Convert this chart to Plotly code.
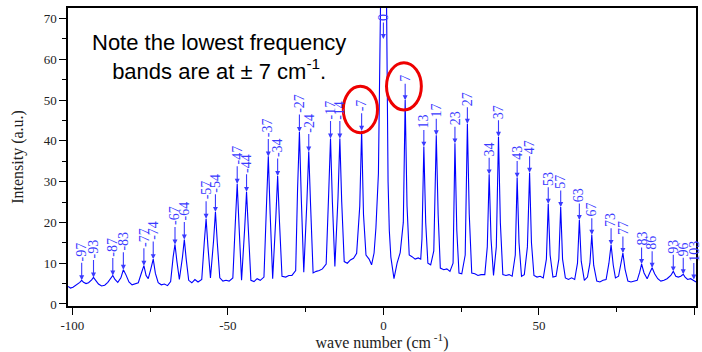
import plotly.graph_objects as go

wn = [-101.4, -100.6, -99.8, -99.0, -98.2, -97.6, -97.0, -96.4, -95.6, -94.8,
      -93.8, -93.2, -92.5, -91.6, -90.6, -89.6, -88.6, -87.6, -87.0, -86.3,
      -85.4, -84.4, -83.6, -82.8, -81.8, -80.8, -79.8, -78.8, -77.8, -77.0,
      -76.3, -75.6, -74.8, -74.0, -73.3, -72.4, -71.4, -70.4, -69.4, -68.4,
      -67.6, -67.0, -66.4, -65.6, -64.6, -64.0, -63.4, -62.6, -61.6, -60.6,
      -59.6, -58.4, -57.6, -57.0, -56.4, -55.6, -54.6, -54.0, -53.4, -52.6,
      -51.6, -50.6, -49.6, -48.4, -47.6, -47.0, -46.4, -45.6, -44.6, -44.0,
      -43.4, -42.6, -41.6, -40.6, -39.6, -38.4, -37.6, -37.0, -36.4, -35.6,
      -34.6, -34.0, -33.4, -32.6, -31.4, -30.4, -29.4, -28.2, -27.6, -27.0,
      -26.4, -25.6, -24.6, -24.0, -23.4, -22.6, -21.6, -20.6, -19.6, -18.4,
      -17.6, -17.0, -16.4, -15.6, -14.6, -14.0, -13.4, -12.6, -11.6, -10.6,
      -9.6, -8.6, -7.6, -7.0, -6.4, -5.6, -4.6, -3.8, -3.0, -2.4,
      -1.6, -0.9, 0.0, 1.0, 1.5, 1.9, 2.4, 3.4, 4.4, 5.4,
      6.4, 7.0, 7.6, 8.3, 9.2, 10.2, 11.2, 12.0, 12.4, 13.0,
      13.6, 14.3, 15.2, 16.2, 17.0, 17.6, 18.3, 19.4, 20.4, 21.4,
      22.4, 23.0, 23.6, 24.3, 25.2, 26.3, 27.0, 27.6, 28.4, 29.4,
      30.4, 31.4, 32.6, 33.4, 34.0, 34.6, 35.4, 36.3, 37.0, 37.6,
      38.4, 39.4, 40.4, 41.4, 42.4, 43.0, 43.6, 44.4, 45.3, 46.3,
      47.0, 47.6, 48.4, 49.4, 50.4, 51.4, 52.4, 53.0, 53.6, 54.5,
      55.5, 56.4, 57.0, 57.6, 58.5, 59.5, 60.5, 61.5, 62.4, 63.0,
      63.6, 64.6, 65.6, 66.4, 67.0, 67.6, 68.6, 69.6, 70.6, 71.6,
      72.5, 73.2, 73.9, 74.6, 75.6, 76.5, 77.0, 77.7, 78.6, 79.6,
      80.6, 81.6, 82.4, 83.0, 83.8, 84.8, 85.7, 86.4, 87.2, 88.2,
      89.2, 90.2, 91.2, 92.4, 93.2, 94.0, 94.8, 95.6, 96.4, 97.0,
      97.8, 98.8, 99.6, 100.5]
intensity = [4.3, 3.9, 4.1, 4.5, 4.8, 5.3, 5.8, 5.3, 5.0, 5.2,
             5.9, 6.5, 5.8, 4.9, 4.4, 4.6, 5.3, 6.4, 7.0, 6.0,
             5.3, 6.4, 8.4, 7.2, 5.4, 4.7, 4.9, 5.2, 7.6, 9.4,
             7.0, 6.2, 8.5, 11.0, 7.5, 5.2, 4.7, 4.9, 4.5, 5.5,
             11.5, 14.6, 10.5, 6.0, 11.5, 15.8, 11.0, 5.8, 5.2, 6.0,
             5.4, 6.0, 15.0, 20.9, 14.0, 6.4, 15.5, 22.6, 15.0, 6.4,
             5.6, 5.8, 5.6, 6.4, 20.0, 29.5, 19.0, 5.8, 18.5, 27.5,
             18.0, 5.8, 5.5, 6.2, 5.8, 6.6, 24.0, 36.2, 22.0, 6.2,
             21.0, 31.4, 20.0, 6.8, 6.6, 7.0, 7.0, 8.2, 28.0, 42.2,
             26.0, 7.8, 25.0, 37.4, 24.0, 7.6, 8.0, 8.2, 8.6, 9.8,
             27.0, 40.6, 25.0, 9.2, 26.0, 40.6, 25.0, 10.4, 10.0, 10.8,
             11.2, 12.4, 24.0, 42.5, 22.0, 12.0, 11.0, 9.6, 12.5, 18.7,
             32.0, 75.0, 110.0, 75.0, 30.0, 18.0, 11.5, 6.2, 10.0, 12.6,
             20.0, 50.0, 24.0, 12.0, 11.6, 11.0, 11.3, 11.0, 16.0, 38.6,
             20.0, 10.0, 9.6, 13.0, 41.4, 22.0, 8.8, 8.4, 8.6, 8.0,
             10.0, 39.4, 18.0, 7.6, 7.4, 12.0, 44.2, 22.0, 7.6, 7.4,
             7.0, 7.2, 7.2, 14.0, 31.8, 16.0, 7.0, 14.0, 41.0, 20.0,
             7.2, 7.0, 7.2, 6.8, 12.0, 31.0, 15.0, 6.8, 7.2, 14.0,
             32.2, 15.0, 7.0, 6.6, 6.8, 6.4, 11.0, 24.6, 12.0, 6.6,
             6.8, 11.0, 23.8, 11.0, 6.4, 6.0, 6.4, 6.0, 10.0, 20.6,
             10.5, 5.8, 6.6, 10.0, 17.0, 9.5, 5.6, 5.4, 5.8, 6.0,
             10.0, 14.5, 9.5, 6.4, 6.8, 10.0, 12.5, 8.5, 5.6, 5.4,
             5.6, 5.8, 7.8, 9.8, 7.6, 6.2, 7.8, 8.9, 7.4, 6.2,
             5.6, 5.8, 6.2, 7.0, 8.0, 6.8, 6.6, 6.8, 7.3, 6.6,
             6.0, 6.2, 5.8, 5.4]

# Labelled bands: label text, position, intensity at the arrow tip
band_labels = ["-97", "-93", "-87", "-83", "-77", "-74", "-67", "-64", "-57", "-54",
               "-47", "-44", "-37", "-34", "-27", "-24", "-17", "-14", "-7", "0",
               "7", "13", "17", "23", "27", "34", "37", "43", "47", "53",
               "57", "63", "67", "73", "77", "83", "86", "93", "96", "103"]
band_pos = [-97.0, -93.2, -87.0, -83.6, -77.0, -74.0, -67.0, -64.0, -57.0, -54.0,
            -47.0, -44.0, -37.0, -34.0, -27.0, -24.0, -17.0, -14.0, -7.0, 0.0,
            7.0, 13.0, 17.0, 23.0, 27.0, 34.0, 37.0, 43.0, 47.0, 53.0,
            57.0, 63.0, 67.0, 73.2, 77.0, 83.0, 86.4, 93.2, 96.4, 99.8]
band_int = [5.8, 6.5, 7.0, 8.4, 9.4, 11.0, 14.6, 15.8, 20.9, 22.6,
            29.5, 27.5, 36.2, 31.4, 42.2, 37.4, 40.6, 40.6, 42.5, 65.0,
            50.0, 38.6, 41.4, 39.4, 44.2, 31.8, 41.0, 31.0, 32.2, 24.6,
            23.8, 20.6, 17.0, 14.5, 12.5, 9.8, 8.9, 8.0, 7.3, 6.0]

x_ticks = [-100, -50, 0, 50, 100]
y_ticks = [0, 10, 20, 30, 40, 50, 60, 70]

BLUE = "#0000ff"
LBLUE = "#3a3aff"
SERIF = "Liberation Serif"
SANS = "Liberation Sans"

fig = go.Figure()
fig.add_trace(go.Scatter(x=wn, y=intensity, mode="lines",
                         line=dict(color=BLUE, width=1.1),
                         hoverinfo="skip", showlegend=False))

annotations = []
for lab, xp, yp in zip(band_labels, band_pos, band_int):
    annotations.append(dict(
        x=xp, y=yp, xref="x", yref="y", text=lab, textangle=-90,
        showarrow=True, ax=0, ay=-(18 + 3.5 * len(lab)),
        arrowhead=2, arrowsize=0.9, arrowwidth=1.1, arrowcolor=LBLUE,
        font=dict(family=SERIF, size=14, color=LBLUE)))

annotations.append(dict(
    x=0.241, y=0.835, xref="paper", yref="paper", showarrow=False,
    text="Note the lowest frequency<br>bands are at \u00b1 7 cm<sup>-1</sup>.",
    xanchor="center", yanchor="middle", align="center",
    font=dict(family=SANS, size=22, color="black")))

fig.update_layout(
    width=702, height=352,
    margin=dict(l=68, r=4, t=8, b=39),
    paper_bgcolor="white", plot_bgcolor="white",
    annotations=annotations,
    shapes=[
        dict(type="circle", xref="x", yref="y", x0=-12.9, x1=-1.9, y0=42.0, y1=53.4,
             line=dict(color="#ee0000", width=3)),
        dict(type="circle", xref="x", yref="y", x0=1.0, x1=12.2, y0=47.6, y1=59.2,
             line=dict(color="#ee0000", width=3)),
    ],
    xaxis=dict(range=[-101.4, 100.5], tickvals=x_ticks,
               ticktext=[str(v) for v in x_ticks],
               ticks="outside", ticklen=7, tickwidth=1, tickcolor="black",
               minor=dict(dtick=25, tick0=0, ticks="outside", ticklen=4, tickcolor="black"),
               showline=True, linecolor="black", linewidth=1.5, mirror=True,
               showgrid=False, zeroline=False,
               tickfont=dict(family=SERIF, size=13, color="#222"),
               title=dict(text="wave number (cm<sup> -1</sup>)", standoff=3,
                          font=dict(family=SERIF, size=16, color="#222"))),
    yaxis=dict(range=[-0.5, 72.6], tickvals=y_ticks,
               ticks="outside", ticklen=7, tickwidth=1, tickcolor="black",
               minor=dict(dtick=5, tick0=0, ticks="outside", ticklen=4, tickcolor="black"),
               showline=True, linecolor="black", linewidth=1.5, mirror=True,
               showgrid=False, zeroline=False,
               tickfont=dict(family=SERIF, size=13, color="#222"),
               title=dict(text="Intensity (a.u.)", standoff=16,
                          font=dict(family=SERIF, size=16, color="#222"))),
)

fig.write_html("out.html")
